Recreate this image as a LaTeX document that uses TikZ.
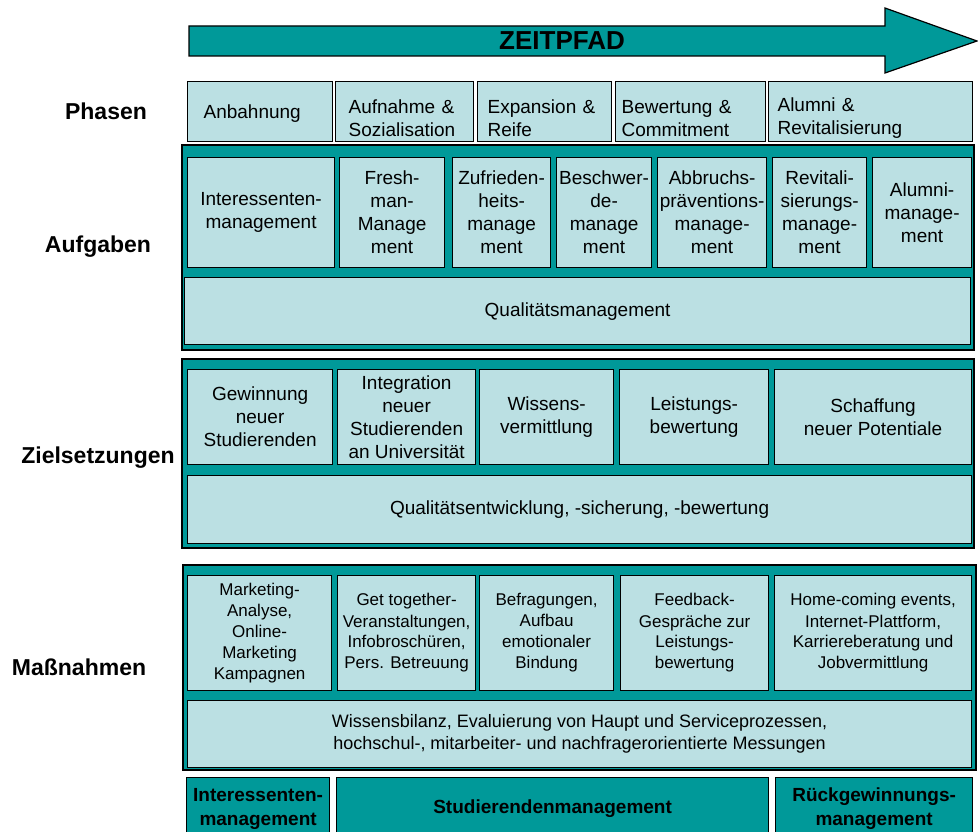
\documentclass[tikz,border=0pt]{standalone}
\usepackage{fontspec}
\setmainfont{Liberation Sans}
\usepackage{tikz}
\definecolor{deepteal}{HTML}{009999}
\definecolor{paleteal}{HTML}{BBE0E3}
\tikzset{
  panel/.style={draw=black, fill=deepteal, line width=1.4pt},
  cell/.style={draw=black, fill=paleteal, line width=1.2pt, anchor=north west, align=center, inner sep=0pt, font=\fontsize{19}{23}\selectfont},
  phase/.style={cell, align=left, minimum height=60pt},
  phasetwo/.style={phase, execute at begin node=\rule{0pt}{26pt}},
  measure/.style={cell, font=\fontsize{17}{21}\selectfont},
  bar/.style={cell, fill=deepteal, font=\bfseries\fontsize{19}{24}\selectfont},
  rowlab/.style={anchor=base, font=\bfseries\fontsize{23}{27}\selectfont},
}

\begin{document}
\begin{tikzpicture}[x=1pt, y=-1pt]
  \useasboundingbox (0,0) rectangle (978,832);
  \clip (0,0) rectangle (978,832);

  % time arrow on top
  \draw[panel, line width=1.2pt] (189,26) -- (885,26) -- (885,8) -- (977,41) -- (885,73) -- (885,56) -- (189,56) -- cycle;
  \node[font=\bfseries\fontsize{26}{30}\selectfont] (zeitpfad) at (562,41) {ZEITPFAD};

  % labels on the left
  \node[rowlab] (phasen) at (106,120) {Phasen};
  \node[rowlab] (aufgaben) at (98,252) {Aufgaben};
  \node[rowlab] (ziele) at (98,463) {Zielsetzungen};
  \node[rowlab] (massnahmen) at (79,675) {Maßnahmen};

  % phases
  \node[phase, text width=113pt, inner xsep=16pt, execute at begin node=\rule{0pt}{18pt}] (anbahnung) at (187,81) {Anbahnung};
  \node[phasetwo, text width=112pt, inner xsep=13pt] (aufnahme) at (335,81) {Aufnahme \&\\Sozialisation};
  \node[phasetwo, text width=114pt, inner xsep=10pt] (expansion) at (477,81) {Expansion \&\\Reife};
  \node[phasetwo, text width=138pt, inner xsep=6pt] (bewertung) at (615,81) {Bewertung \&\\Commitment};
  \node[phasetwo, text width=186pt, inner xsep=9pt] (alumni) at (768,81) {Alumni \&\\Revitalisierung};

  % tasks
  \draw[panel] (182,145) rectangle (974,350);
  \node[cell, minimum width=147pt, minimum height=110pt] (intmgmt) at (187,157) {Interessenten-\\management};
  \node[cell, minimum width=105pt, minimum height=110pt] (freshmgmt) at (339,157) {Fresh-\\man-\\Manage\\ment};
  \node[cell, minimum width=98pt, minimum height=110pt] (zufmgmt) at (452,157) {Zufrieden-\\heits-\\manage\\ment};
  \node[cell, minimum width=95pt, minimum height=110pt] (beschmgmt) at (556,157) {Beschwer-\\de-\\manage\\ment};
  \node[cell, minimum width=109pt, minimum height=110pt] (abbrmgmt) at (657,157) {Abbruchs-\\präventions-\\manage-\\ment};
  \node[cell, minimum width=94pt, minimum height=110pt] (revmgmt) at (772,157) {Revitali-\\sierungs-\\manage-\\ment};
  \node[cell, minimum width=99pt, minimum height=110pt] (alumgmt) at (872,157) {Alumni-\\manage-\\ment};
  \node[cell, minimum width=786pt, minimum height=67pt] (qualmgmt) at (184,277) {Qualitätsmanagement};

  % goals
  \draw[panel] (182,359) rectangle (974,548);
  \node[cell, minimum width=145pt, minimum height=95pt] (gewinnung) at (187,369) {Gewinnung\\neuer\\Studierenden};
  \node[cell, minimum width=138pt, minimum height=95pt] (integration) at (337,369) {Integration\\neuer\\Studierenden\\an Universität};
  \node[cell, minimum width=134pt, minimum height=95pt] (wissen) at (479,369) {Wissens-\\vermittlung};
  \node[cell, minimum width=149pt, minimum height=95pt] (leistung) at (619,369) {Leistungs-\\bewertung};
  \node[cell, minimum width=197pt, minimum height=95pt] (potentiale) at (774,369) {Schaffung\\neuer Potentiale};
  \node[cell, minimum width=784pt, minimum height=68pt] (qualentw) at (187,475) {Qualitätsentwicklung, -sicherung, -bewertung};

  % measures
  \draw[panel] (183,565) rectangle (976,770);
  \node[measure, minimum width=144pt, minimum height=115pt] (marketing) at (187,575) {Marketing-\\Analyse,\\Online-\\Marketing\\Kampagnen};
  \node[measure, minimum width=138pt, minimum height=115pt] (gettogether) at (337,575) {Get together-\\Veranstaltungen,\\Infobroschüren,\\Pers. Betreuung};
  \node[measure, minimum width=134pt, minimum height=115pt] (befragung) at (479,575) {Befragungen,\\Aufbau\\emotionaler\\Bindung};
  \node[measure, minimum width=148pt, minimum height=115pt] (feedback) at (620,575) {Feedback-\\Gespräche zur\\Leistungs-\\bewertung};
  \node[measure, minimum width=197pt, minimum height=115pt] (homecoming) at (774,575) {Home-coming events,\\Internet-Plattform,\\Karriereberatung und\\Jobvermittlung};
  \node[cell, minimum width=784pt, minimum height=67pt, font=\fontsize{18}{22}\selectfont] (wissensbilanz) at (187,700) {Wissensbilanz, Evaluierung von Haupt und Serviceprozessen,\\hochschul-, mitarbeiter- und nachfragerorientierte Messungen};

  % management areas at the bottom
  \node[bar, minimum width=143pt, minimum height=63pt] (intbar) at (186,777) {Interessenten-\\management};
  \node[bar, minimum width=432pt, minimum height=63pt] (studbar) at (336,777) {Studierendenmanagement};
  \node[bar, minimum width=197pt, minimum height=63pt] (rueckbar) at (775,777) {Rückgewinnungs-\\management};
\end{tikzpicture}
\end{document}
